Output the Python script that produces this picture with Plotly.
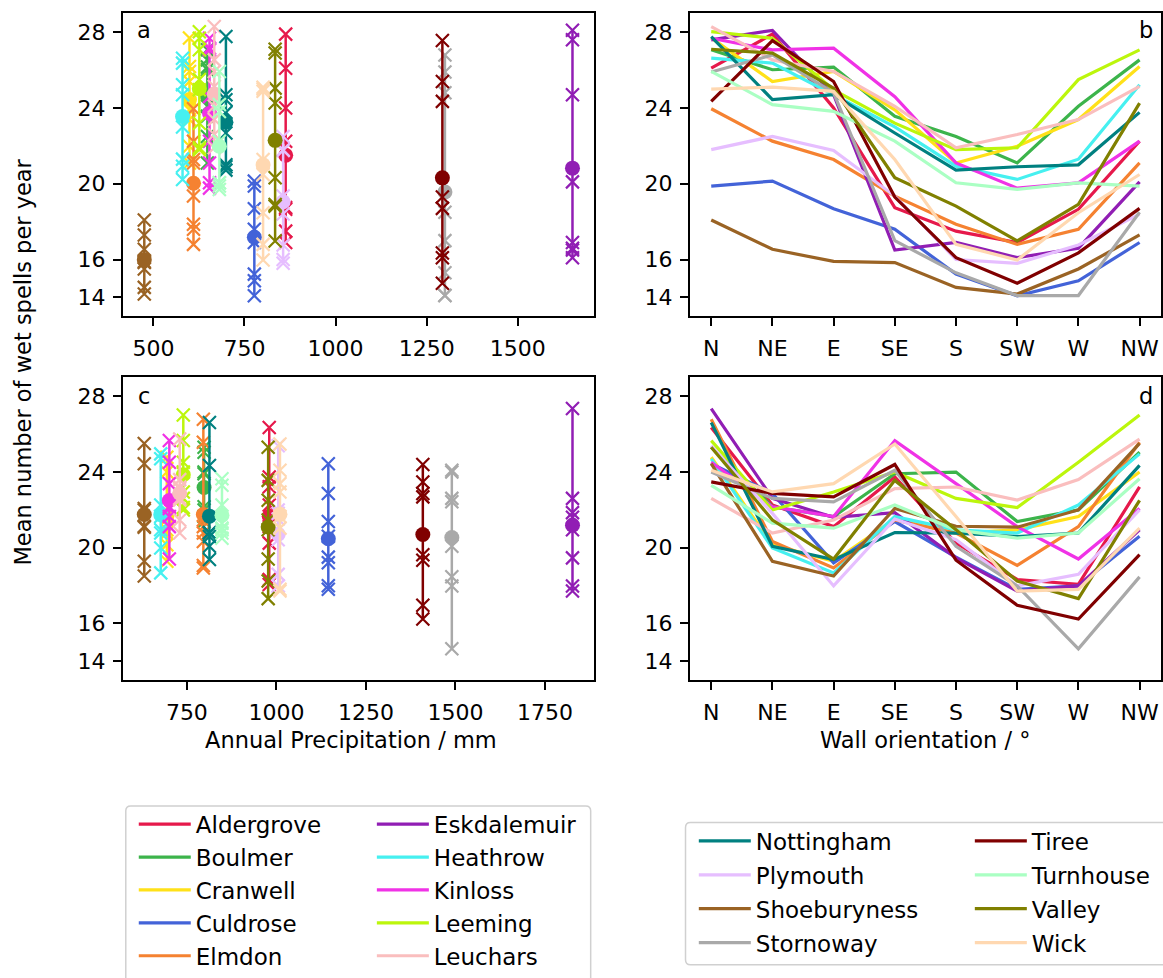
import numpy as np
import plotly.graph_objects as go

W, H = 1163, 978
FONT = "DejaVu Sans"

orientations = ["N", "NE", "E", "SE", "S", "SW", "W", "NW"]

stations = ["Aldergrove", "Boulmer", "Cranwell", "Culdrose", "Elmdon", "Eskdalemuir",
            "Heathrow", "Kinloss", "Leeming", "Leuchars", "Nottingham", "Plymouth",
            "Shoeburyness", "Stornoway", "Tiree", "Turnhouse", "Valley", "Wick"]

colors = ["#e6194b", "#3cb44b", "#ffe119", "#4363d8", "#f58231", "#911eb4",
          "#46f0f0", "#f032e6", "#bcf60c", "#fabebe", "#008080", "#e6beff",
          "#9a6324", "#a9a9a9", "#800000", "#aaffc3", "#808000", "#ffd8b1"]

# annual precipitation (mm) for the two periods (panels a and c)
precip_top = [863, 648, 599, 777, 610, 1650, 580, 654, 626, 667, 699, 856,
              475, 1300, 1293, 681, 834, 801]
precip_bottom = [980, 798, 694, 1145, 796, 1827, 677, 701, 740, 730, 813, 1005,
                 631, 1490, 1409, 848, 977, 1010]

# mean number of wet spells per year by wall orientation, top period (panel b)
aldergrove_top = [26.1, 27.9, 24.0, 18.74, 17.5, 16.9, 18.65, 22.25]
boulmer_top = [27.07, 26.02, 26.16, 23.56, 22.5, 21.1, 24.09, 26.54]
cranwell_top = [27.7, 25.4, 25.93, 23.9, 21.1, 21.98, 23.39, 26.19]
culdrose_top = [19.88, 20.14, 18.68, 17.6, 15.23, 14.09, 14.88, 16.9]
elmdon_top = [23.96, 22.25, 21.28, 19.35, 17.86, 16.8, 17.6, 21.1]
eskdalemuir_top = [27.6, 28.1, 24.7, 16.5, 16.9, 16.1, 16.6, 20.1]
heathrow_top = [26.63, 26.37, 24.7, 23.0, 20.93, 20.23, 21.3, 25.23]
kinloss_top = [27.68, 27.07, 27.16, 24.6, 21.1, 19.77, 20.05, 22.25]
leeming_top = [28.03, 27.68, 24.96, 23.2, 21.8, 21.9, 25.5, 27.07]
leuchars_top = [28.3, 26.54, 25.93, 24.09, 21.9, 22.6, 23.39, 25.14]
nottingham_top = [27.77, 24.44, 24.7, 22.68, 20.72, 20.9, 21.0, 23.77]
plymouth_top = [21.8, 22.5, 21.76, 19.35, 16.0, 15.8, 16.77, 18.4]
shoeburyness_top = [18.09, 16.54, 15.9, 15.84, 14.53, 14.18, 15.5, 17.3]
stornoway_top = [25.9, 26.8, 24.8, 17.0, 15.3, 14.1, 14.1, 18.5]
tiree_top = [24.35, 27.56, 25.4, 19.3, 16.1, 14.75, 16.35, 18.7]
turnhouse_top = [25.93, 24.18, 23.82, 22.25, 20.05, 19.7, 20.05, 19.88]
valley_top = [27.1, 26.9, 25.05, 20.32, 18.82, 16.98, 18.91, 24.26]
wick_top = [25.0, 25.1, 24.88, 21.28, 16.8, 15.98, 18.47, 20.49]

# mean number of wet spells per year by wall orientation, bottom period (panel d)
aldergrove_bottom = [26.34, 22.25, 21.11, 23.73, 20.24, 18.32, 18.06, 23.21]
boulmer_bottom = [25.3, 22.16, 21.64, 23.9, 23.99, 21.38, 21.99, 25.04]
cranwell_bottom = [24.77, 20.15, 19.28, 21.51, 20.77, 20.94, 21.64, 23.99]
culdrose_bottom = [24.43, 22.86, 19.2, 21.38, 19.5, 17.8, 17.99, 20.6]
elmdon_bottom = [26.78, 20.33, 18.93, 21.46, 20.77, 19.06, 21.11, 25.56]
eskdalemuir_bottom = [27.34, 22.6, 21.6, 21.85, 19.46, 17.71, 17.98, 20.94]
heathrow_bottom = [24.69, 19.98, 18.67, 21.64, 20.94, 20.77, 22.25, 24.95]
kinloss_bottom = [24.51, 22.16, 21.64, 25.65, 23.38, 21.11, 19.4, 22.07]
leeming_bottom = [25.65, 21.99, 22.94, 23.99, 22.6, 22.12, 24.51, 27.0]
leuchars_bottom = [22.6, 20.77, 21.46, 23.12, 23.2, 22.51, 23.59, 25.73]
nottingham_bottom = [26.6, 20.07, 19.37, 20.8, 20.77, 20.59, 20.77, 24.34]
plymouth_bottom = [25.38, 21.81, 17.98, 21.51, 20.42, 17.98, 18.59, 21.99]
shoeburyness_bottom = [24.43, 19.28, 18.5, 22.07, 21.13, 21.08, 21.99, 25.5]
stornoway_bottom = [23.99, 22.6, 22.42, 24.08, 20.07, 17.98, 14.66, 18.46]
tiree_bottom = [23.47, 22.86, 22.68, 24.39, 19.34, 16.96, 16.23, 19.63]
turnhouse_bottom = [23.29, 21.29, 21.03, 22.25, 20.94, 20.5, 20.77, 23.64]
valley_bottom = [25.3, 21.46, 19.4, 23.55, 20.94, 18.24, 17.31, 22.5]
wick_bottom = [24.08, 22.94, 23.38, 25.47, 21.64, 17.71, 17.8, 21.03]

top_values = [aldergrove_top, boulmer_top, cranwell_top, culdrose_top, elmdon_top,
              eskdalemuir_top, heathrow_top, kinloss_top, leeming_top, leuchars_top,
              nottingham_top, plymouth_top, shoeburyness_top, stornoway_top, tiree_top,
              turnhouse_top, valley_top, wick_top]
bottom_values = [aldergrove_bottom, boulmer_bottom, cranwell_bottom, culdrose_bottom,
                 elmdon_bottom, eskdalemuir_bottom, heathrow_bottom, kinloss_bottom,
                 leeming_bottom, leuchars_bottom, nottingham_bottom, plymouth_bottom,
                 shoeburyness_bottom, stornoway_bottom, tiree_bottom, turnhouse_bottom,
                 valley_bottom, wick_bottom]

y_ticks = [14, 16, 20, 24, 28]
top_x_ticks = [500, 750, 1000, 1250, 1500]
bottom_x_ticks = [750, 1000, 1250, 1500, 1750]

legend_columns = {"legend": stations[0:5], "legend2": stations[5:10],
                  "legend3": stations[10:14], "legend4": stations[14:18]}


def px_x(p):
    return p / W


def px_y(p):
    return 1 - p / H


fig = go.Figure()

# panels a / c : range of orientation values per station at its precipitation
for precip, values_list, xa, ya in [(precip_top, top_values, "x", "y"),
                                    (precip_bottom, bottom_values, "x3", "y3")]:
    for name, col, p, vals in zip(stations, colors, precip, values_list):
        fig.add_trace(go.Scatter(
            x=[p] * len(vals), y=vals, mode="lines+markers", xaxis=xa, yaxis=ya,
            line=dict(color=col, width=2.5),
            marker=dict(symbol="x-thin", size=13, color=col,
                        line=dict(color=col, width=2.2)),
            showlegend=False, hoverinfo="skip"))
        fig.add_trace(go.Scatter(
            x=[p], y=[float(np.mean(vals))], mode="markers", xaxis=xa, yaxis=ya,
            marker=dict(symbol="circle", size=15, color=col, line=dict(width=0)),
            showlegend=False, hoverinfo="skip"))

# panels b / d : wet spells against wall orientation
leg_of = {}
for lg, names in legend_columns.items():
    for n in names:
        leg_of[n] = lg

for values_list, xa, ya, show in [(top_values, "x2", "y2", True),
                                  (bottom_values, "x4", "y4", False)]:
    for name, col, vals in zip(stations, colors, values_list):
        fig.add_trace(go.Scatter(
            x=orientations, y=vals, mode="lines", xaxis=xa, yaxis=ya, name=name,
            line=dict(color=col, width=3.2), showlegend=show, legendgroup=name,
            legend=leg_of[name], hoverinfo="skip"))

axis_common = dict(showline=True, linecolor="black", linewidth=1.6, mirror=True,
                   ticks="outside", ticklen=8, tickwidth=1.6, tickcolor="black",
                   showgrid=False, zeroline=False, ticklabelstandoff=3,
                   tickfont=dict(family=FONT, size=22, color="black"))

left_dom = [px_x(123), px_x(595)]
right_dom = [px_x(691), 1.0]
top_dom = [px_y(316.7), px_y(13.3)]
bot_dom = [px_y(681), px_y(377.5)]
yr = [13.0, 29.0]

fig.update_layout(
    xaxis=dict(domain=left_dom, anchor="y", range=[416, 1709],
               tickvals=top_x_ticks, **axis_common),
    yaxis=dict(domain=top_dom, anchor="x", range=yr, tickvals=y_ticks, **axis_common),
    xaxis2=dict(domain=right_dom, anchor="y2", type="category", range=[-0.35, 7.35],
                categoryorder="array", categoryarray=orientations, **axis_common),
    yaxis2=dict(domain=top_dom, anchor="x2", range=yr, tickvals=y_ticks, **axis_common),
    xaxis3=dict(domain=left_dom, anchor="y3", range=[571, 1887],
                tickvals=bottom_x_ticks, **axis_common),
    yaxis3=dict(domain=bot_dom, anchor="x3", range=yr, tickvals=y_ticks, **axis_common),
    xaxis4=dict(domain=right_dom, anchor="y4", type="category", range=[-0.35, 7.35],
                categoryorder="array", categoryarray=orientations, **axis_common),
    yaxis4=dict(domain=bot_dom, anchor="x4", range=yr, tickvals=y_ticks, **axis_common),
)

leg_common = dict(xanchor="left", yanchor="top", bgcolor="rgba(0,0,0,0)",
                  borderwidth=0, itemwidth=52, traceorder="grouped",
                  font=dict(family=FONT, size=23, color="black"))
fig.update_layout(
    legend=dict(x=px_x(134), y=px_y(803.5), tracegroupgap=0, **leg_common),
    legend2=dict(x=px_x(372.5), y=px_y(803.5), tracegroupgap=0, **leg_common),
    legend3=dict(x=px_x(695), y=px_y(820.3), tracegroupgap=1, **leg_common),
    legend4=dict(x=px_x(971.5), y=px_y(820.3), tracegroupgap=1, **leg_common),
)


def rounded_box(x0, y0, x1, y1, r=5):
    pts = [
        f"M {px_x(x0 + r)},{px_y(y0)}",
        f"L {px_x(x1 - r)},{px_y(y0)}",
        f"Q {px_x(x1)},{px_y(y0)} {px_x(x1)},{px_y(y0 + r)}",
        f"L {px_x(x1)},{px_y(y1 - r)}",
        f"Q {px_x(x1)},{px_y(y1)} {px_x(x1 - r)},{px_y(y1)}",
        f"L {px_x(x0 + r)},{px_y(y1)}",
        f"Q {px_x(x0)},{px_y(y1)} {px_x(x0)},{px_y(y1 - r)}",
        f"L {px_x(x0)},{px_y(y0 + r)}",
        f"Q {px_x(x0)},{px_y(y0)} {px_x(x0 + r)},{px_y(y0)}",
        "Z",
    ]
    return dict(type="path", xref="paper", yref="paper", path=" ".join(pts),
                line=dict(color="#d0d0d0", width=1.5), fillcolor="rgba(0,0,0,0)",
                layer="below")


fig.update_layout(shapes=[rounded_box(126, 806.7, 591.7, 995),
                          rounded_box(686.7, 823.3, 1175, 965.7)])

ann_font = dict(family=FONT, size=22.5, color="black")
annotations = [
    dict(text="Mean number of wet spells per year", x=px_x(23), y=px_y(362),
         textangle=-90, showarrow=False, xref="paper", yref="paper",
         xanchor="center", yanchor="middle", font=ann_font),
    dict(text="Annual Precipitation / mm", x=px_x(352), y=px_y(741),
         showarrow=False, xref="paper", yref="paper", xanchor="center",
         yanchor="middle", font=ann_font),
    dict(text="Wall orientation / °", x=px_x(927), y=px_y(741),
         showarrow=False, xref="paper", yref="paper", xanchor="center",
         yanchor="middle", font=ann_font),
]
for letter, xp, yp in [("a", 144, 30), ("b", 1148, 30), ("c", 144, 396), ("d", 1148, 396)]:
    annotations.append(dict(text=letter, x=px_x(xp), y=px_y(yp), showarrow=False,
                            xref="paper", yref="paper", xanchor="center",
                            yanchor="middle", font=ann_font))
fig.update_layout(annotations=annotations)

fig.update_layout(width=W, height=H, margin=dict(l=0, r=0, t=0, b=0),
                  paper_bgcolor="white", plot_bgcolor="white",
                  font=dict(family=FONT, color="black"))

fig.write_html("out.html", config={"displayModeBar": False},
               post_script="document.body.style.margin='0px';"
                           "document.body.style.overflow='hidden';")
